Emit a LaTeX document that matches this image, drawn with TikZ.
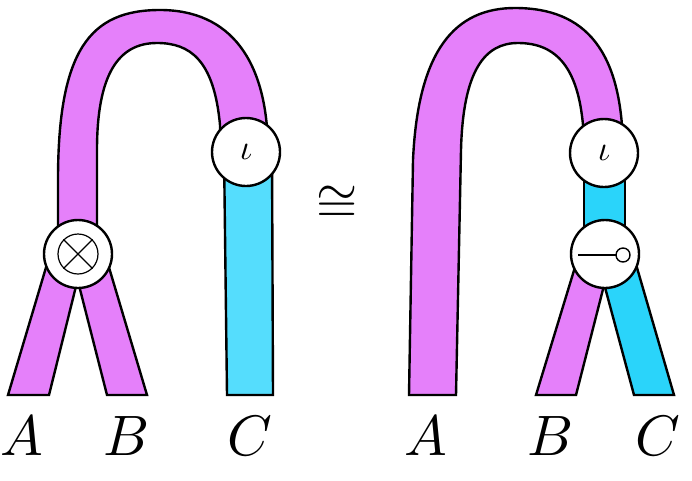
\documentclass[tikz,border=0pt]{standalone}
\usepackage{graphicx}
\definecolor{mag}{RGB}{229,128,250}
\definecolor{cyanL}{RGB}{85,221,253}
\definecolor{cyanR}{RGB}{42,212,250}
\newcommand{\bigmath}[2]{\scalebox{#1}{$#2$}}
\tikzset{
  strand/.style={draw=black,line width=2.4pt},
  bead/.style={circle,draw=black,fill=white,line width=2.4pt,minimum size=68,inner sep=0pt},
  lbl/.style={anchor=base,inner sep=0pt}
}
\begin{document}
\begin{tikzpicture}[x=1pt,y=-1pt]
\useasboundingbox (0,0) rectangle (692,480);
% ---------------- left diagram ----------------
\path[strand,fill=mag] (8,395) -- (49,395) -- (84,254) -- (50,254) -- cycle;
\path[strand,fill=mag] (107,395) -- (147,395) -- (105,254) -- (71,254) -- cycle;
\path[strand,fill=cyanL] (224,152) -- (227,395) -- (273,395) -- (272,152) -- cycle;
\path[strand,fill=mag] (58,254) -- (58,180) .. controls (58,50) and (90,10) .. (160,10)
  .. controls (230,10) and (268,60) .. (268,152) -- (220,152) -- (220,125)
  .. controls (214,60) and (190,43) .. (157,43)
  .. controls (118,43) and (97,75) .. (97,150) -- (97,254) -- cycle;
\node[bead] (tens) at (78,254) {};
\node[circle,draw=black,line width=1.2pt,minimum size=40,inner sep=0pt] (otimes) at (tens.center) {};
\draw[line width=1.2pt] (otimes.north west) -- (otimes.south east);
\draw[line width=1.2pt] (otimes.north east) -- (otimes.south west);
\node[bead] (iotaL) at (246,152) {\bigmath{3.5}{\iota}};
\node[lbl] (AL) at (22,455) {\bigmath{5.7}{A}};
\node[lbl] (BL) at (127,455) {\bigmath{5.7}{B}};
\node[lbl] (CL) at (250,455) {\bigmath{5.7}{C}};
% ---------------- iso ----------------
\node[inner sep=0pt] (iso) at (337,204) {\bigmath{5.3}{\cong}};
% ---------------- right diagram ----------------
\path[strand,fill=mag] (536,395) -- (576,395) -- (612,254) -- (579,254) -- cycle;
\path[strand,fill=cyanR] (634,395) -- (674,395) -- (633,254) -- (596,254) -- cycle;
\path[strand,fill=cyanR] (584,153) rectangle (625,254);
\path[strand,fill=mag] (409,395) -- (413,160) .. controls (418,50) and (455,8) .. (515,8)
  .. controls (585,8) and (623,50) .. (623,153) -- (583,153) -- (583,125)
  .. controls (578,70) and (558,43) .. (518,43)
  .. controls (485,43) and (463,70) .. (461,150) -- (456,395) -- cycle;
\node[bead] (iotaR) at (604,153) {\bigmath{3.5}{\iota}};
\node[bead] (cnt) at (605,254) {};
\draw[line width=1.4pt] (cnt.center) ++(-27,1) -- ++(38,0);
\draw[line width=1.4pt] (cnt.center) ++(18,1) circle[radius=7];
\node[lbl] (AR) at (426,455) {\bigmath{5.7}{A}};
\node[lbl] (BR) at (551,455) {\bigmath{5.7}{B}};
\node[lbl] (CR) at (658,455) {\bigmath{5.7}{C}};
\end{tikzpicture}
\end{document}
